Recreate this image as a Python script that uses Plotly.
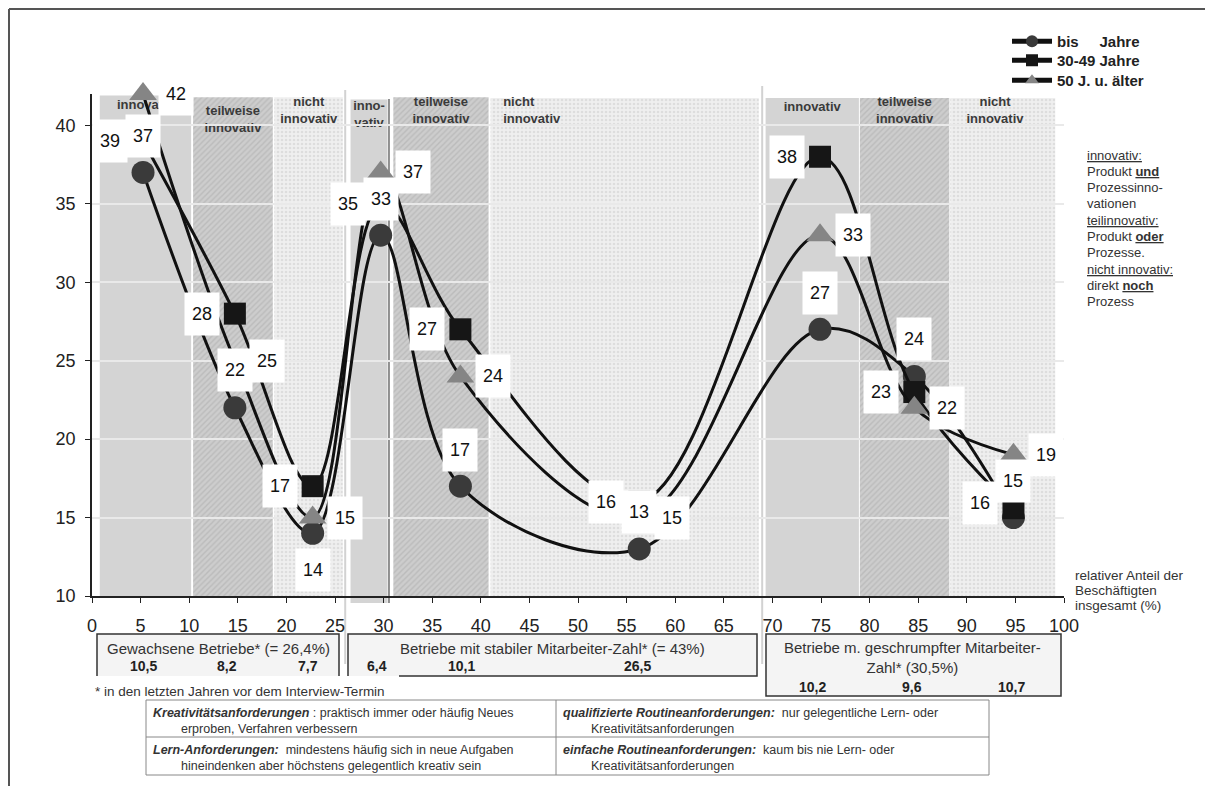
import plotly.graph_objects as go

# ---------------- data ----------------
x_groups = [5.25, 14.7, 22.7, 29.7, 37.9, 56.3, 74.9, 84.6, 94.8]
bis_jahre = [37, 22, 14, 33, 17, 13, 27, 24, 15]
jahre_30_49 = [39, 28, 17, 35, 27, 16, 38, 23, 15.6]
jahre_50_plus = [42, 25, 15, 37, 24, 15, 33, 22, 19]
series_names = ["bis\u00a0\u00a0\u00a0\u00a0\u00a0Jahre", "30-49 Jahre", "50 J. u. älter"]

band_start = [0.8, 10.4, 18.75, 26.6, 31.0, 41.0, 69.3, 79.0, 88.3]
band_end = [10.2, 18.6, 25.8, 30.4, 40.8, 68.6, 78.9, 88.2, 99.1]
band_top = [41.9, 41.8, 41.8, 41.65, 41.8, 41.75, 41.75, 41.75, 41.75]
band_kind = ["inno", "teil", "nicht", "inno", "teil", "nicht", "inno", "teil", "nicht"]
band_text = ["innovativ", "teilweise<br>innovativ", "nicht<br>innovativ",
             "inno-<br>vativ", "teilweise<br>innovativ", "nicht<br>innovativ",
             "innovativ", "teilweise<br>innovativ", "nicht<br>innovativ"]

x_ticks = list(range(0, 101, 5))
y_ticks = [10, 15, 20, 25, 30, 35, 40]

group_titles = ["Gewachsene Betriebe* (= 26,4%)",
                "Betriebe mit stabiler Mitarbeiter-Zahl* (= 43%)",
                "Betriebe m. geschrumpfter Mitarbeiter-<br>Zahl* (30,5%)"]
group_shares = ["10,5", "8,2", "7,7", "6,4", "10,1", "26,5", "10,2", "9,6", "10,7"]
footnote = "* in den letzten Jahren vor dem Interview-Termin"
axis_note = ["relativer Anteil der", "Beschäftigten", "insgesamt (%)"]

U = '<span style="text-decoration:underline">{}</span>'
right_notes = [U.format("innovativ:"), "Produkt <b>" + U.format("und") + "</b>",
               "Prozessinno-", "vationen", U.format("teilinnovativ:"),
               "Produkt <b>" + U.format("oder") + "</b>", "Prozesse.",
               U.format("nicht innovativ:"), "direkt <b>" + U.format("noch") + "</b>", "Prozess"]

table_cells = [
    ("<b><i>Kreativitätsanforderungen</i></b> : praktisch immer oder häufig Neues", "erproben, Verfahren verbessern"),
    ("<b><i>Lern-Anforderungen:</i></b>  mindestens häufig sich in neue Aufgaben", "hineindenken aber höchstens gelegentlich kreativ sein"),
    ("<b><i>qualifizierte Routineanforderungen:</i></b>  nur gelegentliche Lern- oder", "Kreativitätsanforderungen"),
    ("<b><i>einfache Routineanforderungen:</i></b>  kaum bis nie Lern- oder", "Kreativitätsanforderungen"),
]

# ---------------- layout helpers (page pixel -> paper) ----------------
OFF = 8                      # page margin of the html body
W, H = 1213 - 2 * OFF, 794 - 2 * OFF
PLOT_X0, PLOT_X1, PLOT_Y0, PLOT_Y1 = 92, 1064, 94, 596   # plot area in page pixels
PW, PH = PLOT_X1 - PLOT_X0, PLOT_Y1 - PLOT_Y0
L, T = PLOT_X0 - OFF, PLOT_Y0 - OFF
R, B = W - L - PW, H - T - PH
FONT = "Liberation Sans, Arial, sans-serif"


def PX(p):
    return (p - PLOT_X0) / PW


def PY(p):
    return (PLOT_Y1 - p) / PH


fig = go.Figure()

# ---------------- background bands (lower subplot) ----------------
band_styles = {
    "inno": dict(color="#d4d4d4"),
    "teil": dict(color="#c9c9c9", pattern=dict(shape="/", fgcolor="#a9a9a9", bgcolor="#cdcdcd", size=4, solidity=0.35)),
    "nicht": dict(color="#eeeeee", pattern=dict(shape=".", fgcolor="#cccccc", bgcolor="#efefef", size=4, solidity=0.35)),
}
for kind, style in band_styles.items():
    idx = [i for i, k in enumerate(band_kind) if k == kind]
    fig.add_trace(go.Bar(
        x=[(band_start[i] + band_end[i]) / 2 for i in idx],
        y=[band_top[i] - 10 for i in idx],
        width=[band_end[i] - band_start[i] for i in idx],
        base=10, marker=dict(line=dict(width=0), **style),
        showlegend=False, hoverinfo="skip", xaxis="x", yaxis="y"))

label_x = [5.5, 14.5, 22.3, 28.5, 35.9, 42.3, 74.1, 83.6, 92.9]
label_y = [41.27, 40.35, 40.9, 40.64, 40.9, 40.9, 41.15, 40.9, 40.9]
label_pos = ["middle center"] * 5 + ["middle right"] + ["middle center"] * 3
fig.add_trace(go.Scatter(
    x=label_x, y=label_y, mode="text", text=["<b>" + t + "</b>" for t in band_text],
    textposition=label_pos, textfont=dict(size=13, color="#3a3a3a", family=FONT),
    showlegend=False, hoverinfo="skip", xaxis="x", yaxis="y"))

# ---------------- data series (upper subplot) ----------------
series = [bis_jahre, jahre_30_49, jahre_50_plus]
symbols = ["circle", "square", "triangle-up"]
mcolors = ["#3a3a3a", "#161616", "#858585"]
msizes = [23, 22, 24]
legends = ["legend", "legend2", "legend3"]
for name, vals, sym, col, size, lg in zip(series_names, series, symbols, mcolors, msizes, legends):
    fig.add_trace(go.Scatter(
        x=x_groups, y=vals, mode="lines+markers", name="<b>" + name + "</b>",
        line=dict(color="#111111", width=3, shape="spline", smoothing=1.0),
        marker=dict(symbol=sym, size=size, color=col, line=dict(width=0)),
        cliponaxis=False, legend=lg, xaxis="x2", yaxis="y2"))

# ---------------- value labels ----------------
label_dx = [[0] * 9, [-3.4] * 9, [3.35] * 9]
label_dy = [[2.3, 2.4, -2.35, 2.3, 2.3, 2.35, 2.3, 2.4, 2.3], [0] * 8 + [0.3], [0] * 9]
annotations = []
for s, vals in enumerate(series):
    for i, v in enumerate(vals):
        annotations.append(dict(
            x=x_groups[i] + label_dx[s][i], y=v + label_dy[s][i], xref="x2", yref="y2",
            text=f"{v:.0f}", showarrow=False, bgcolor="white", width=30, height=38,
            borderpad=2, font=dict(size=18, color="#111", family=FONT)))

# right notes
for i, t in enumerate(right_notes):
    annotations.append(dict(x=PX(1085), y=PY(155 + i * 16.3), xref="paper", yref="paper",
                            xanchor="left", yanchor="middle", text=t, showarrow=False,
                            font=dict(size=13, color="#333", family=FONT)))
for i, t in enumerate(axis_note):
    annotations.append(dict(x=PX(1073), y=PY(575 + i * 15), xref="paper", yref="paper",
                            xanchor="left", yanchor="middle", text=t, showarrow=False,
                            font=dict(size=13.5, color="#333", family=FONT)))

# group boxes text
title_pos = [(218, 648), (552, 648), (912, 657.5)]
for t, (px, py) in zip(group_titles, title_pos):
    annotations.append(dict(x=PX(px), y=PY(py), xref="paper", yref="paper", text=t,
                            showarrow=False, xanchor="center", yanchor="middle",
                            font=dict(size=15, color="#333", family=FONT)))
share_px = [143, 227, 308, 377, 461, 637, 812, 912, 1011]
share_py = [666] * 6 + [687] * 3
for t, px, py in zip(group_shares, share_px, share_py):
    annotations.append(dict(x=PX(px), y=PY(py), xref="paper", yref="paper", text="<b>" + t + "</b>",
                            showarrow=False, xanchor="center", yanchor="middle",
                            font=dict(size=14, color="#222", family=FONT)))
annotations.append(dict(x=PX(93), y=PY(691), xref="paper", yref="paper", text=footnote,
                        showarrow=False, xanchor="left", yanchor="middle",
                        font=dict(size=13.5, color="#333", family=FONT)))
cell_pos = [(151, 713), (151, 750), (561, 713), (561, 750)]
for (l1, l2), (px, py) in zip(table_cells, cell_pos):
    annotations.append(dict(x=PX(px), y=PY(py), xref="paper", yref="paper", text=l1,
                            showarrow=False, xanchor="left", yanchor="middle",
                            font=dict(size=12.5, color="#333", family=FONT)))
    annotations.append(dict(x=PX(px + 28), y=PY(py + 16), xref="paper", yref="paper", text=l2,
                            showarrow=False, xanchor="left", yanchor="middle",
                            font=dict(size=12.5, color="#333", family=FONT)))

# ---------------- shapes ----------------
shapes = []
# frame
shapes.append(dict(type="line", xref="paper", yref="paper", x0=PX(9), x1=PX(1205), y0=PY(9), y1=PY(9),
                   line=dict(color="#555", width=2)))
shapes.append(dict(type="line", xref="paper", yref="paper", x0=PX(9), x1=PX(9), y0=PY(9), y1=PY(786),
                   line=dict(color="#555", width=2)))
# separators between groups
for xv, top in [(26.05, 90), (68.95, 86)]:
    shapes.append(dict(type="line", xref="x2", yref="paper", x0=xv, x1=xv, y0=PY(top), y1=PY(664),
                       line=dict(color="#d2d2d2", width=2), layer="below"))
# dark edge of small innovativ band
shapes.append(dict(type="line", xref="x2", yref="paper", x0=30.55, x1=30.55, y0=PY(99), y1=PY(603),
                   line=dict(color="#8f8f8f", width=2), layer="below"))
shapes.append(dict(type="rect", xref="x2", yref="paper", x0=band_start[3], x1=band_end[3], y0=PY(603), y1=0,
                   fillcolor="#d4d4d4", line=dict(width=0), layer="below"))
# group boxes
shapes.append(dict(type="rect", xref="paper", yref="paper", x0=PX(97), x1=PX(339), y0=PY(676), y1=PY(634),
                   fillcolor="#f4f4f4", line=dict(width=0), layer="below"))
shapes.append(dict(type="path", xref="paper", yref="paper",
                   path=f"M{PX(97)},{PY(676)} L{PX(97)},{PY(634)} L{PX(339)},{PY(634)} L{PX(339)},{PY(676)}",
                   line=dict(color="#333", width=1.5)))
shapes.append(dict(type="rect", xref="paper", yref="paper", x0=PX(348), x1=PX(757), y0=PY(676), y1=PY(634),
                   fillcolor="#f4f4f4", line=dict(width=0), layer="below"))
shapes.append(dict(type="path", xref="paper", yref="paper",
                   path=f"M{PX(348)},{PY(676)} L{PX(348)},{PY(634)} L{PX(757)},{PY(634)} L{PX(757)},{PY(676)} L{PX(399)},{PY(676)}",
                   line=dict(color="#333", width=1.5)))
shapes.append(dict(type="rect", xref="paper", yref="paper", x0=PX(766), x1=PX(1061), y0=PY(696), y1=PY(634),
                   fillcolor="#f4f4f4", line=dict(color="#333", width=1.5), layer="below"))
# table
shapes.append(dict(type="rect", xref="paper", yref="paper", x0=PX(146), x1=PX(989), y0=PY(775), y1=PY(700),
                   line=dict(color="#888", width=1)))
shapes.append(dict(type="line", xref="paper", yref="paper", x0=PX(146), x1=PX(989), y0=PY(737), y1=PY(737),
                   line=dict(color="#888", width=1)))
shapes.append(dict(type="line", xref="paper", yref="paper", x0=PX(556), x1=PX(556), y0=PY(700), y1=PY(775),
                   line=dict(color="#888", width=1)))

legend_style = dict(x=PX(1007), xanchor="left", yanchor="top", bgcolor="rgba(0,0,0,0)",
                    font=dict(size=15, color="#222", family=FONT), itemwidth=40, itemsizing="constant")

fig.update_layout(
    width=W, height=H, margin=dict(l=L, r=R, t=T, b=B, autoexpand=False),
    paper_bgcolor="white", plot_bgcolor="rgba(0,0,0,0)", barmode="overlay",
    font=dict(family=FONT, color="#222"),
    xaxis=dict(range=[0, 100], visible=False, domain=[0, 1]),
    yaxis=dict(range=[10, 42], visible=False, domain=[0, 1]),
    xaxis2=dict(range=[0, 100], anchor="y2", domain=[0, 1], tickvals=x_ticks, ticks="outside", ticklen=5,
                tickcolor="#222", showline=True, linecolor="#222", linewidth=1.5, showgrid=False,
                zeroline=False, tickfont=dict(size=18, color="#222", family=FONT), ticklabelstandoff=8),
    yaxis2=dict(range=[10, 42], anchor="x2", domain=[0, 1], tickvals=y_ticks, ticks="outside", ticklen=5,
                tickcolor="#222", showline=True, linecolor="#222", linewidth=1.5, showgrid=True,
                gridcolor="#e9e9e9", gridwidth=1.5, zeroline=False,
                tickfont=dict(size=18, color="#222", family=FONT), ticklabelstandoff=6),
    legend=dict(y=PY(25), **legend_style),
    legend2=dict(y=PY(44), **legend_style),
    legend3=dict(y=PY(64), **legend_style),
    annotations=annotations, shapes=shapes,
)

fig.write_html("out.html")
